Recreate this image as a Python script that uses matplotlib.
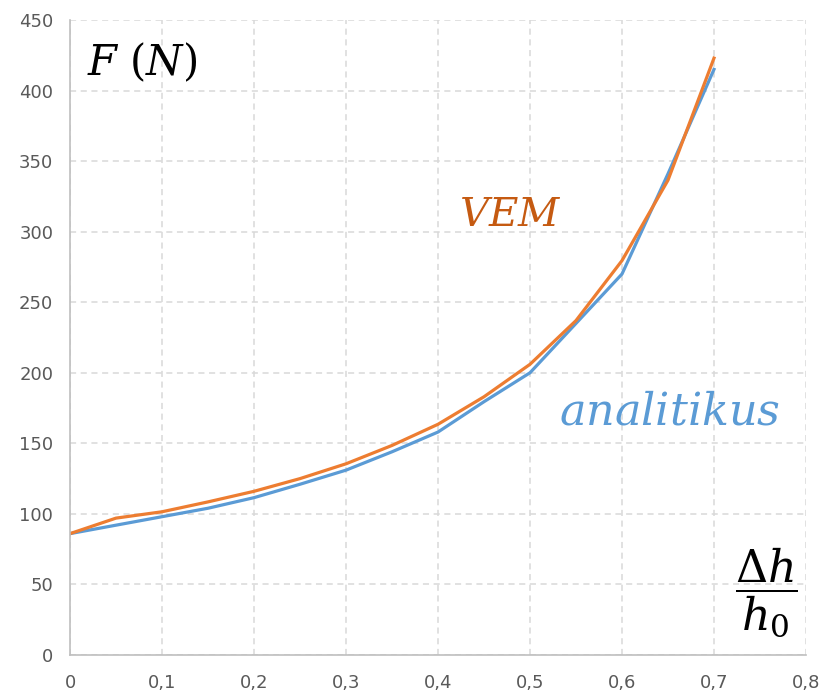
import matplotlib
matplotlib.use("Agg")
import matplotlib.pyplot as plt
from matplotlib.ticker import MultipleLocator, FuncFormatter

plt.rcParams['mathtext.fontset'] = 'dejavuserif'
plt.rcParams['font.family'] = ['DejaVu Sans']

x = [0, 0.05, 0.1, 0.15, 0.2, 0.25, 0.3, 0.35, 0.4, 0.45, 0.5, 0.55, 0.6, 0.65, 0.7]
analitikus = [86, 92, 98, 104, 111.5, 121, 131, 144, 158, 179.5, 200, 235, 270, 341, 415]
vem = [86, 97, 101.5, 108.5, 116, 125, 135.5, 148.5, 163.5, 183, 206, 237, 279.5, 336.5, 423]

fig = plt.figure(figsize=(8.25, 6.98), dpi=100)
ax = fig.add_axes([70/825, 43/698, 736/825, 635/698])

ax.plot(x, analitikus, color='#5B9BD5', lw=2.3, solid_joinstyle='round')
ax.plot(x, vem, color='#ED7D31', lw=2.3, solid_joinstyle='round')

ax.set_xlim(0, 0.8)
ax.set_ylim(0, 450)
ax.xaxis.set_major_locator(MultipleLocator(0.1))
ax.yaxis.set_major_locator(MultipleLocator(50))
ax.xaxis.set_major_formatter(FuncFormatter(lambda v, p: '0' if abs(v) < 1e-9 else f'{v:.1f}'.replace('.', ',')))
ax.yaxis.set_major_formatter(FuncFormatter(lambda v, p: f'{int(round(v))}'))

ax.grid(True, color='#D9D9D9', linestyle=(0, (4, 3)), lw=1.1)
ax.set_axisbelow(True)
for s in ['top', 'right']:
    ax.spines[s].set_visible(False)
for s in ['left', 'bottom']:
    ax.spines[s].set_color('#BFBFBF')
    ax.spines[s].set_linewidth(1.2)
ax.tick_params(length=0, labelsize=13, labelcolor='#595959')
ax.tick_params(axis='x', pad=14)
ax.tick_params(axis='y', pad=12)

ax.text(0.018, 420, r'$F\ (N)$', fontsize=30, color='black', ha='left', va='center')
ax.text(0.4225, 312, r'$VEM$', fontsize=29, color='#C55A11', ha='left', va='center')
ax.text(0.532, 172, r'$analitikus$', fontsize=32, color='#5B9BD5', ha='left', va='center')
ax.text(0.757, 44, r'$\dfrac{\Delta h}{h_0}$', fontsize=32, color='black', ha='center', va='center')

fig.savefig('out.png', dpi=100, facecolor='white')
